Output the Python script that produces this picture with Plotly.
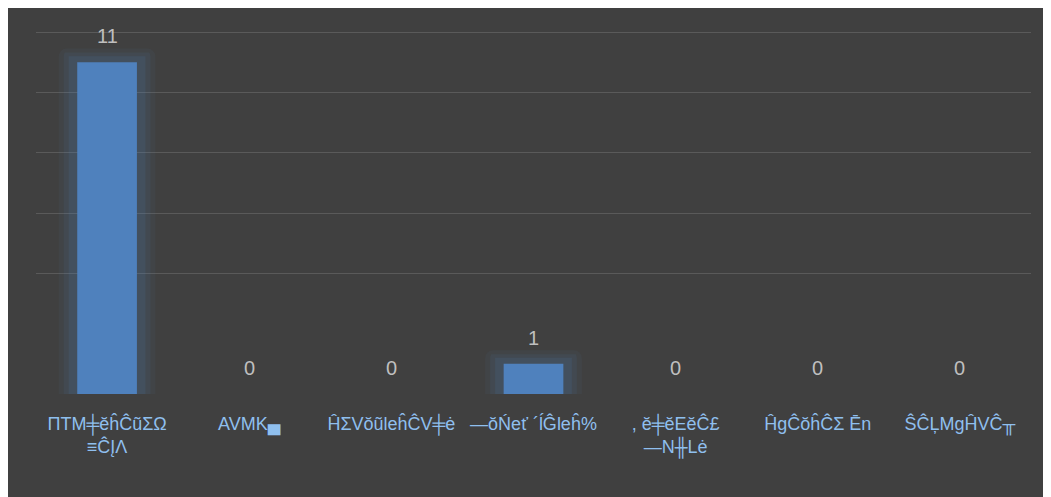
import plotly.graph_objects as go

categories = [
    "ΠΤΜ╪ĕĥĈũΣΩ<br>≡ĈĮΛ",
    "AVMK▄",
    "ĤΣVŏũleĥĈV╪ė",
    "—ŏŃeť ´ĺĜleĥ%",
    ", ĕ╪ĕEĕĈ£<br>—N╫Lė",
    "ĤgĈŏĥĈΣ Ēn",
    "ŜĈĻMgĤVĈ╥",
]
values = [11, 0, 0, 1, 0, 0, 0]
grid_vals = [4, 6, 8, 10, 12]

fig = go.Figure()
# soft glow layers behind bars
glow = [(0.68, 0.06, 0.45), (0.61, 0.09, 0.32), (0.54, 0.13, 0.2)]
for w, a, extra in glow:
    fig.add_trace(go.Bar(x=categories, y=[v + extra if v > 0 else 0 for v in values],
                         width=w,
                         marker=dict(color=f"rgba(79,129,189,{a})", line=dict(width=0),
                                     cornerradius=8),
                         hoverinfo="skip", showlegend=False))
fig.add_trace(go.Bar(x=categories, y=values, width=0.42,
                     marker=dict(color="#4f81bd", line=dict(width=0), cornerradius=3),
                     showlegend=False))

annotations = [dict(x=c, y=v, text=str(v), showarrow=False, yshift=26, yanchor="middle",
                    font=dict(color="#bfbfbf", size=20, family="Liberation Sans, Arial"))
               for c, v in zip(categories, values)]

fig.update_layout(
    width=1043, height=489,
    barmode="overlay",
    paper_bgcolor="#404040", plot_bgcolor="#404040",
    margin=dict(l=28, r=20, t=21, b=103, autoexpand=False),
    font=dict(family="Liberation Sans, Arial", color="#8fbfee", size=18),
    xaxis=dict(showgrid=False, showline=False, zeroline=False, ticks="", tickangle=0,
               automargin=False,
               tickfont=dict(color="#8fbfee", size=18), ticklabelstandoff=17),
    yaxis=dict(range=[0, 12.1], tickvals=grid_vals, showticklabels=False,
               gridcolor="#5a5a5a", gridwidth=1, zeroline=False, showline=False),
    annotations=annotations,
)

fig.write_html("out.html")
